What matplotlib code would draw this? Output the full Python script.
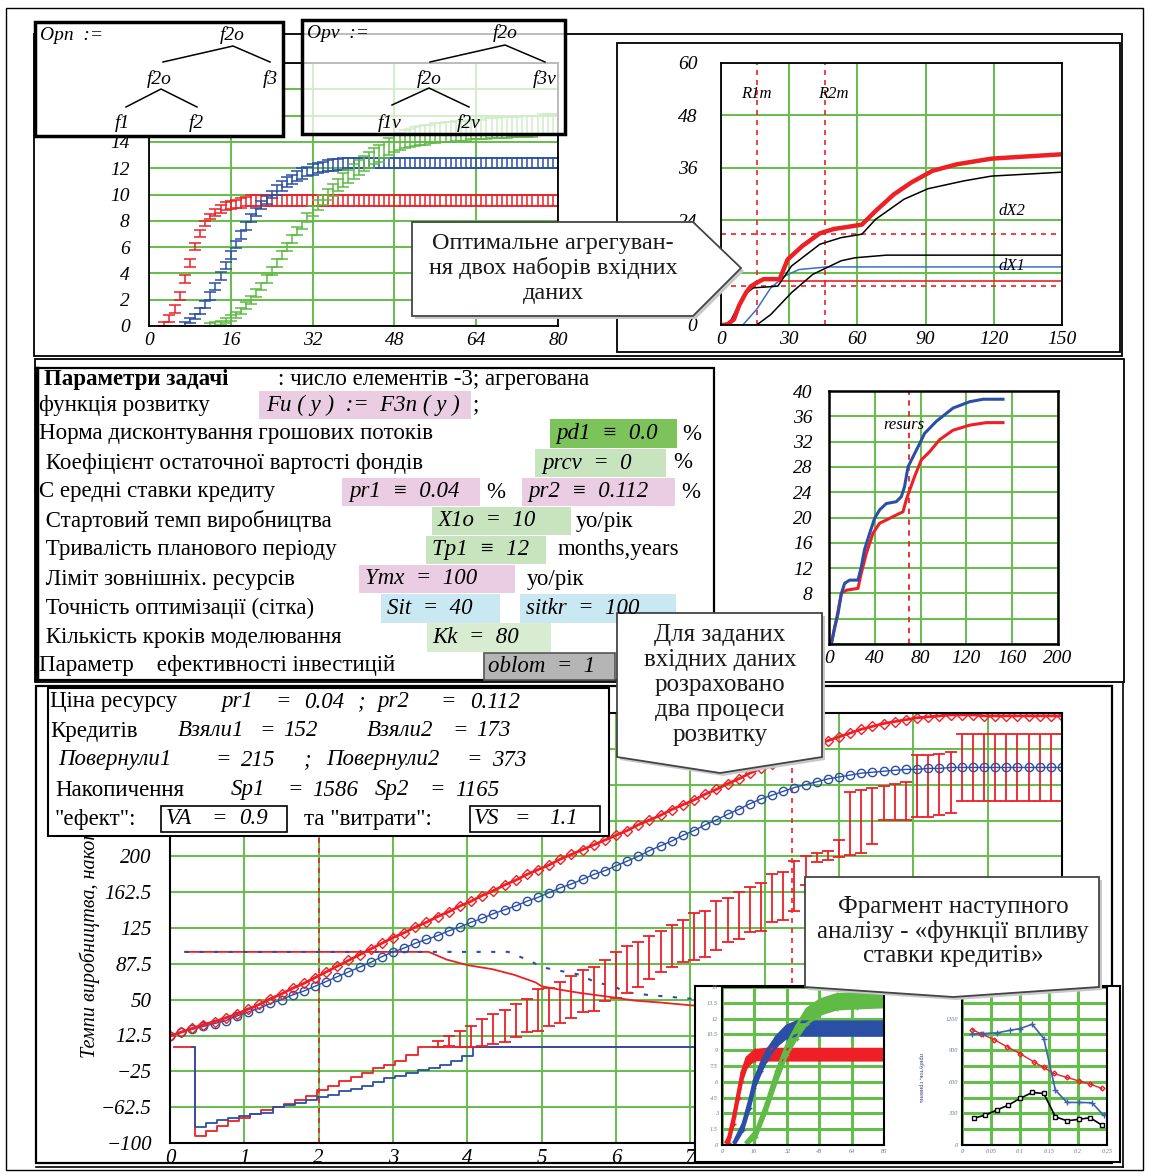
import matplotlib
matplotlib.use('Agg')
import matplotlib.pyplot as plt
from matplotlib.patches import Rectangle, Polygon
import numpy as np

W, H = 1150, 1174
SERIF = ['Liberation Serif', 'DejaVu Serif']
GRID = '#63bf47'
RED = '#ee2026'
BLUE = '#2b4fa6'
GREEN = '#5fbb45'

# ---------------- top-left chart: error-bar growth series ----------------
tl_red_x = list(range(3, 81))
tl_red_lo = [0.0, 0.3, 1.0, 2.0, 3.3, 4.5, 5.8, 6.8, 7.6, 8.1, 8.4, 8.6, 8.8, 8.9, 9.0, 9.0, 9.1] + [9.1] * 61
tl_red_hi = [0.3, 0.8, 1.6, 2.6, 3.9, 5.1, 6.3, 7.3, 8.0, 8.5, 8.9, 9.2, 9.4, 9.5, 9.6, 9.7, 9.8] + [10.0] * 61

tl_blue_x = list(range(7, 81))
tl_blue_lo = [0.0, 0.2, 0.5, 0.9, 1.4, 2.0, 2.7, 3.5, 4.3, 5.1, 5.9, 6.6, 7.3, 7.9, 8.4, 8.9,
              9.3, 9.7, 10.0, 10.3, 10.6, 10.8, 11.0, 11.2, 11.4, 11.5, 11.6, 11.7, 11.8, 11.8,
              11.9, 11.9] + [12.0] * 42
tl_blue_hi = [0.3, 0.6, 0.9, 1.4, 1.9, 2.6, 3.3, 4.1, 4.9, 5.7, 6.5, 7.2, 7.9, 8.5, 9.0, 9.5,
              9.9, 10.3, 10.7, 11.0, 11.3, 11.5, 11.8, 12.0, 12.1, 12.3, 12.4, 12.5, 12.6, 12.7,
              12.7, 12.8] + [12.8] * 42

tl_green_x = list(range(12, 81))
tl_green_lo = [0.0, 0.0, 0.1, 0.2, 0.4, 0.6, 0.9, 1.3, 1.7, 2.2, 2.7, 3.3, 3.9, 4.5, 5.1, 5.7,
               6.3, 6.9, 7.4, 7.9, 8.4, 8.8, 9.2, 9.6, 9.9, 10.3, 10.6, 10.9, 11.2, 11.5, 11.8,
               12.0, 12.3, 12.5, 12.8, 13.0, 13.2, 13.4, 13.5, 13.6, 13.7, 13.8, 13.8, 13.9, 13.9,
               14.0, 14.0, 14.0, 14.1, 14.1, 14.1, 14.2, 14.2, 14.2, 14.2, 14.3, 14.3, 14.3, 14.3,
               14.4, 14.4, 14.4, 14.4, 14.4, 14.5, 14.5, 14.5, 14.5, 14.5]
tl_green_hi = [0.2, 0.3, 0.4, 0.6, 0.8, 1.1, 1.4, 1.8, 2.3, 2.8, 3.3, 3.9, 4.5, 5.1, 5.7, 6.3,
               6.9, 7.5, 8.0, 8.6, 9.1, 9.6, 10.0, 10.4, 10.8, 11.2, 11.6, 11.9, 12.3, 12.6, 12.9,
               13.2, 13.5, 13.8, 14.0, 14.3, 14.5, 14.7, 14.9, 15.0, 15.1, 15.2, 15.3, 15.3, 15.4,
               15.4, 15.5, 15.5, 15.6, 15.6, 15.6, 15.7, 15.7, 15.7, 15.8, 15.8, 15.8, 15.9, 15.9,
               15.9, 15.9, 16.0, 16.0, 16.0, 16.0, 16.1, 16.1, 16.1, 16.1]
tl_ylabels = ['0', '2', '4', '6', '8', '10', '12', '14', '', '', '']

# ---------------- top-right chart ----------------
tr_red_x = [0, 1, 3, 5.7, 8, 11, 13, 15.7, 18.8, 25.8, 29.3, 35.8, 43.5, 49.7, 55, 62, 68, 76, 83.6,
            93, 103.7, 119, 137.6, 150]
tr_red_y = [0, 0, 0.2, 1.3, 4.5, 7.4, 8.8, 9.7, 10.5, 10.5, 15, 18.1, 21, 22, 22.4, 23, 26.1, 29.9,
            32.6, 35.3, 36.8, 38.1, 38.7, 39.1]
tr_dx2_x = [0, 3.4, 9.6, 14.2, 25, 31, 43.5, 52.8, 62, 68, 80.5, 91, 106.8, 119, 150]
tr_dx2_y = [0, 0, 6.6, 8.5, 8.9, 13.5, 18.5, 20, 20.8, 24.2, 28.8, 31.2, 33, 34.1, 35]
tr_dx1_x = [0, 15.7, 21.9, 31, 40.4, 52.8, 59, 72.8, 150]
tr_dx1_y = [0, 0, 2.4, 7.4, 11.6, 14.7, 15.4, 16, 16]
tr_blue_x = [9.6, 15.7, 21.9, 28, 34.3, 46.6, 150]
tr_blue_y = [0, 3.6, 8.5, 11.2, 12.7, 13.3, 13.3]
tr_red_flat = [25.8, 150]
tr_red_flat_y = 10.1
tr_hlines = [20.8, 9.0]
tr_vlines = [15.7, 45.8]

# ---------------- middle-right chart ----------------
mr_blue_x = [2, 5, 7.9, 10.8, 13.7, 18, 25.3, 28.2, 31, 35.5, 39.9, 44.2, 50, 58.8, 63.2, 66, 69,
             73.4, 79.2, 83.5, 93.7, 108.3, 122.8, 134.5, 152]
mr_blue_y = [0, 2.7, 4.8, 8, 9.6, 10.1, 10.1, 12.2, 14.9, 17.5, 19.9, 21.2, 22.2, 22.5, 23.3, 24.9,
             28, 29.6, 31.7, 33.3, 35.2, 37.3, 38.3, 38.7, 38.7]
mr_red_x = [2, 6.4, 10.8, 15.1, 25.3, 28.2, 32.6, 38.4, 44.2, 50, 58.8, 64.6, 67.5, 70.4, 74.8,
            80.6, 87.9, 96.6, 108.3, 122.8, 137.4, 152]
mr_red_y = [0, 3.8, 8, 8.5, 8.8, 11.2, 14.3, 17.5, 19.1, 19.6, 20.4, 20.9, 22.8, 24.3, 26.5, 29.1,
            30.4, 32.3, 33.8, 34.6, 35, 35]
mr_resurs = 69.6
mr_ylabels = ['', '', '8', '12', '16', '20', '24', '28', '32', '36', '40']

# ---------------- bottom chart (Kk = 80 steps over 12 units) ----------------
bt_step = 0.15
bt_red = [12, 16, 20, 24, 27, 31, 35, 40, 45, 51, 56, 62, 67, 73, 79, 85, 91, 97, 103, 109, 115,
          120, 126, 131, 137, 142, 148, 153, 159, 164, 170, 175, 181, 186, 191, 197, 202, 207, 212,
          217, 222, 227, 233, 238, 243, 249, 254, 259, 265, 270, 276, 281, 287, 292, 297, 302, 307,
          312, 317, 321, 325, 329, 333, 336, 339, 341, 343, 345, 346, 347, 348, 348, 348, 347, 347,
          347, 347, 347, 347, 347, 347]
bt_blue = [12, 16, 19, 22, 25, 28, 33, 37, 41, 46, 50, 55, 59, 64, 69, 74, 79, 84, 89, 95, 100,
           104, 109, 113, 117, 122, 126, 131, 135, 140, 144, 148, 153, 157, 162, 167, 171, 176, 181,
           185, 190, 195, 200, 206, 211, 216, 222, 227, 233, 238, 244, 249, 255, 260, 264, 268, 272,
           275, 278, 281, 283, 285, 287, 288, 289, 290, 291, 291, 292, 292, 293, 293, 293, 293, 293,
           293, 293, 293, 293, 293, 293]
bt_red_loan_x = [0.05, 0.33, 0.48, 0.63, 0.78, 0.93, 1.08, 1.23, 1.38, 1.53, 1.68, 1.83, 1.98, 2.13,
                 2.28, 2.43, 2.58, 2.73, 2.88, 3.03, 3.18, 3.33, 12.0]
bt_red_loan_y = [0, -92.6, -87.4, -82.2, -77.0, -74.3, -70.1, -65.9, -62.5, -59.7, -55.5, -51.0,
                 -44.1, -40.6, -35.4, -31.2, -26.7, -21.5, -18.0, -13.9, -8.3, 0, 0]
bt_blue_loan_x = [0.30, 0.33, 0.48, 0.63, 0.78, 0.93, 1.08, 1.23, 1.38, 1.53, 1.68, 1.83, 1.98, 2.13,
                  2.28, 2.43, 2.58, 2.73, 2.88, 3.03, 3.18, 3.33, 3.48, 3.63, 3.78, 3.93, 4.08, 12.0]
bt_blue_loan_y = [0, -83.3, -78.8, -76.3, -73.6, -71.8, -70.1, -68.4, -62.5, -60.4, -58.0, -55.5,
                  -52.0, -49.3, -45.8, -43.0, -40.6, -36.0, -31.9, -30.2, -26.7, -23.2, -21.5, -18.0,
                  -13.9, -9.4, 0, 0]
bt_limit_red_x = [0.2, 3.48, 3.72, 4.01, 4.33, 4.63, 4.92, 5.0, 5.28, 5.52, 6.0, 6.25, 6.6, 7.02, 7.6]
bt_limit_red_y = [100, 100, 92, 86, 82, 76, 68, 64, 60, 57, 52, 49, 47, 44, 42]
bt_limit_blue_x = [0.2, 3.48, 4.55, 4.86, 5.0, 5.52, 5.7, 6.0, 6.12, 6.42, 6.72, 7.0, 7.5]
bt_limit_blue_y = [100, 100, 100, 90, 84, 76, 69, 63, 58, 55, 53, 51, 49]
bt_bar_x = [3.6, 3.75, 3.9, 4.05, 4.2, 4.35, 4.5, 4.65, 4.8, 4.95, 5.1, 5.25, 5.4, 5.55, 5.7, 5.85,
            6.0, 6.15, 6.3, 6.45, 6.6, 6.75, 6.9, 7.05, 7.2, 7.35, 7.5, 7.65, 7.8, 7.95, 8.1, 8.25,
            8.4, 8.55, 8.7, 8.85, 9.0, 9.15, 9.3, 9.45, 9.6, 9.75, 9.9, 10.05, 10.2, 10.35, 10.5,
            10.65, 10.8, 10.95, 11.1, 11.25, 11.4, 11.55, 11.7, 11.85, 12.0]
bt_bar_hi = [7, 12.5, 17.7, 22, 30, 35, 39, 45, 51, 61, 62, 68, 75, 81, 84, 91, 99.5, 106.5, 110,
             117, 122, 128.6, 133, 141, 143, 153, 156, 163, 168, 172, 181, 184, 195, 200, 203.5, 206,
             217, 267, 269, 272, 274, 276, 278, 305.6, 305.6, 307, 309, 327.6, 327.6, 327.6, 327.6,
             327.6, 327.6, 327.6, 327.6, 327.6, 327.6]
bt_bar_lo = [0, 1, 0.5, 0.5, 1.5, 3.8, 5.5, 11, 16, 17, 22.6, 26, 31, 36.6, 38, 49, 52, 57.5, 63,
             71.5, 78.5, 84.4, 89, 91, 94.5, 101.5, 110, 113.7, 120.6, 122, 131, 133, 143, 170, 194,
             196, 199, 201, 203.5, 212.6, 238.5, 238.5, 238.5, 241, 241, 243, 245, 257.8, 257.8,
             257.8, 257.8, 257.8, 257.8, 257.8, 257.8, 257.8, 257.8]
bt_dashed = [2.0, 8.37]
bt_xlabels = ['0', '1', '2', '3', '4', '5', '6', '7', '', '', '', '', '']
bt_ylabels = ['\u2212100', '\u221262.5', '\u221225', '12.5', '50', '87.5', '125', '162.5', '200',
              '', '', '', '']

# ---------------- inset mini charts ----------------
m1_red_x = [2, 3.3, 5.7, 8.2, 9.8, 12.3, 16.4, 22, 80]
m1_red_lo = [0, 0.2, 2.0, 4.5, 6.1, 7.5, 8.1, 8.05, 8.05]
m1_red_hi = [0.3, 0.8, 2.8, 5.3, 6.9, 8.3, 9.0, 9.1, 9.1]
m1_blue_x = [6, 10.3, 13.6, 16, 19.4, 22.7, 26.9, 31.9, 36.8, 80]
m1_blue_lo = [0, 1.4, 3.5, 5.4, 7.0, 8.3, 9.4, 10.2, 10.4, 10.4]
m1_blue_hi = [0.3, 2.0, 4.3, 6.2, 7.8, 9.1, 10.3, 11.3, 11.7, 11.7]
m1_green_x = [12, 16.9, 21.9, 26.9, 31.9, 36.8, 41.8, 48.5, 56.7, 66.7, 80]
m1_green_lo = [0, 0.8, 3.2, 6.0, 8.5, 10.1, 11.5, 12.4, 12.9, 13.0, 13.1]
m1_green_hi = [0.3, 1.4, 4.0, 7.0, 9.5, 11.3, 12.9, 13.8, 14.3, 14.4, 14.5]

m2_red_x = [0.017, 0.032, 0.055, 0.078, 0.1, 0.124, 0.141, 0.158, 0.181, 0.201, 0.221, 0.241]
m2_red = [1096, 1058, 1001, 932, 868, 789, 736, 679, 641, 609, 578, 537]
m2_blue_x = [0.017, 0.037, 0.06, 0.083, 0.1, 0.121, 0.141, 0.161, 0.181, 0.201, 0.224, 0.244]
m2_blue = [1052, 1058, 1064, 1089, 1105, 1146, 1011, 521, 404, 404, 401, 284]
m2_black_x = [0.02, 0.04, 0.06, 0.08, 0.1, 0.121, 0.141, 0.161, 0.181, 0.201, 0.221, 0.241]
m2_black = [253, 284, 332, 379, 442, 499, 489, 268, 230, 243, 259, 189]


fig = plt.figure(figsize=(W / 100, H / 100), dpi=100)


def px_axes(x0, y0, x1, y1, z):
    return fig.add_axes([x0 / W, 1 - y1 / H, (x1 - x0) / W, (y1 - y0) / H], zorder=z)


def layer(z):
    ax = fig.add_axes([0, 0, 1, 1], zorder=z)
    ax.set_xlim(0, W)
    ax.set_ylim(H, 0)
    ax.axis('off')
    return ax


def chart(ax, xlim, ylim, xt, yt, xlab, ylab, fs, xpad, ypad, glw=1.4, tcolor='black', slw=1.3):
    ax.set_xlim(*xlim)
    ax.set_ylim(*ylim)
    ax.set_xticks(xt)
    ax.set_yticks(yt)
    ax.set_xticklabels(xlab)
    ax.set_yticklabels(ylab)
    for lab in ax.get_xticklabels() + ax.get_yticklabels():
        lab.set_fontfamily(SERIF)
        lab.set_fontstyle('italic')
        lab.set_fontsize(fs)
        lab.set_color(tcolor)
    ax.tick_params(axis='x', length=0, pad=xpad)
    ax.tick_params(axis='y', length=0, pad=ypad)
    ax.grid(True, color=GRID, lw=glw)
    ax.set_axisbelow(True)
    for s in ax.spines.values():
        s.set_color('black')
        s.set_linewidth(slw)


def txt(ax, x, y, s, size=16.5, style='normal', weight='normal', ha='left', **kw):
    return ax.text(x, y, s, fontsize=size, fontstyle=style, fontweight=weight, family=SERIF,
                   ha=ha, va='center', **kw)


bg = layer(0)
ov = layer(10)

# frames
for (x0, y0, x1, y1, lw) in [(6, 8, 1143, 1170, 1.0), (34, 34, 1122, 356, 1.3), (617, 43, 1120, 352, 1.3),
                             (35, 359, 1124, 682, 1.3), (36, 368, 714, 680, 1.6), (36, 686, 1112, 1163, 1.6)]:
    bg.add_patch(Rectangle((x0, y0), x1 - x0, y1 - y0, fill=False, lw=lw, ec='black'))
bg.plot([1123, 1123], [682, 1167], color='black', lw=1.2)
bg.plot([36, 1123], [1167, 1167], color='black', lw=1.2)
bg.plot([37, 37], [368, 680], color='black', lw=2.5)

# ---- top-left chart ----
ax = px_axes(149, 63, 558, 326, 1)
chart(ax, (0, 80), (0, 20), range(0, 81, 16), range(0, 21, 2),
      [str(v) for v in range(0, 81, 16)], tl_ylabels, 14, 4, 14)
for xs, lo, hi, c in [(tl_red_x, tl_red_lo, tl_red_hi, RED), (tl_blue_x, tl_blue_lo, tl_blue_hi, BLUE),
                      (tl_green_x, tl_green_lo, tl_green_hi, GREEN)]:
    lo = np.array(lo)
    hi = np.array(hi)
    ax.errorbar(xs, lo, yerr=[np.zeros(len(lo)), hi - lo], fmt='none', ecolor=c,
                elinewidth=1.1, capsize=4, capthick=1.1)

# ---- top-right chart ----
ax = px_axes(721, 63, 1062, 325, 1)
chart(ax, (0, 150), (0, 60), range(0, 151, 30), range(0, 61, 12),
      [str(v) for v in range(0, 151, 30)], [str(v) for v in range(0, 61, 12)], 14, 4, 17)
for v in tr_hlines:
    ax.axhline(v, color=RED, lw=1.2, ls=(0, (3, 3)))
for v in tr_vlines:
    ax.axvline(v, color=RED, lw=1.2, ls=(0, (3, 3)))
ax.plot(tr_red_flat, [tr_red_flat_y] * 2, color=RED, lw=1.2)
ax.plot(tr_blue_x, tr_blue_y, color='#3a6fc4', lw=1.1)
ax.plot(tr_dx1_x, tr_dx1_y, color='black', lw=1.1)
ax.plot(tr_dx2_x, tr_dx2_y, color='black', lw=1.1)
ax.plot(tr_red_x, tr_red_y, color=RED, lw=3.2)
for s, x, y in [('R1m', 15.7, 53), ('R2m', 49.5, 53), ('dX2', 128, 26), ('dX1', 128, 13.4)]:
    ax.text(x, y, s, fontsize=12, fontstyle='italic', family=SERIF, ha='center', va='center')

# ---- middle-right chart ----
ax = px_axes(829, 391, 1058, 644, 1)
chart(ax, (0, 200), (0, 40), range(0, 201, 40), range(0, 41, 4),
      [str(v) for v in range(0, 201, 40)], mr_ylabels, 14, 4, 12, slw=1.8)
ax.axvline(mr_resurs, color=RED, lw=1.3, ls=(0, (3, 3)))
ax.plot(mr_red_x, mr_red_y, color=RED, lw=2.2)
ax.plot(mr_blue_x, mr_blue_y, color=BLUE, lw=2.2)
ax.text(65, 34.6, 'resurs', fontsize=12, fontstyle='italic', family=SERIF, ha='center', va='center')

# ---- bottom chart ----
ax = px_axes(170, 713, 1062, 1143, 1)
yt = np.arange(-100, 351, 37.5)
chart(ax, (0, 12), (-100, 350), range(0, 13), yt, bt_xlabels, bt_ylabels, 15, 4, 13, slw=1.5)
xs = np.arange(len(bt_red)) * bt_step
for v in bt_dashed:
    ax.axvline(v, color=RED, lw=1.2, ls=(0, (3, 3)))
ax.plot(bt_red_loan_x, bt_red_loan_y, color=RED, lw=1.3, drawstyle='steps-post')
ax.plot(bt_blue_loan_x, bt_blue_loan_y, color=BLUE, lw=1.3, drawstyle='steps-post')
ax.plot(bt_limit_red_x, bt_limit_red_y, color=RED, lw=1.3)
ax.plot(bt_limit_blue_x, bt_limit_blue_y, color=BLUE, lw=1.5, ls=(0, (2, 5)))
lo = np.array(bt_bar_lo)
hi = np.array(bt_bar_hi)
ax.errorbar(bt_bar_x, lo, yerr=[np.zeros(len(lo)), hi - lo], fmt='none', ecolor=RED,
            elinewidth=1.3, capsize=4, capthick=1.3)
ax.plot(xs, bt_blue, color=BLUE, lw=1.0, marker='o', ms=6, mfc='none', mec=BLUE, mew=1.0)
ax.plot(xs, bt_red, color=RED, lw=2.0, marker='D', ms=5.5, mfc='none', mec=RED, mew=1.0)
# axis title is cut off by the results box in the original, only this part is visible
bg.text(90, 1058, 'Темпи виробництва, накоп', rotation=90, fontsize=14.5,
        fontstyle='italic', family=SERIF, ha='center', va='bottom')

# ---- inset with two mini charts ----
ib = px_axes(695, 986, 1120, 1162, 2)
ib.set_xticks([])
ib.set_yticks([])
for s in ib.spines.values():
    s.set_linewidth(1.5)

m1 = px_axes(722, 987, 884, 1145, 3)
chart(m1, (0, 80), (0, 15), range(0, 81, 16), np.arange(0, 15.1, 1.5),
      [str(v) for v in range(0, 81, 16)],
      ['0', '1.5', '3', '4.5', '6', '7.5', '9', '10.5', '12', '13.5', '15'], 4.5, 3, 3, glw=2.2,
      tcolor='#6a7aa8', slw=1.5)
for xs_, lo_, hi_, c in [(m1_red_x, m1_red_lo, m1_red_hi, RED), (m1_blue_x, m1_blue_lo, m1_blue_hi, BLUE),
                         (m1_green_x, m1_green_lo, m1_green_hi, GREEN)]:
    m1.fill_between(xs_, lo_, hi_, color=c, lw=0)
    m1.plot(xs_, lo_, color=c, lw=2, marker='+', ms=3)
    m1.plot(xs_, hi_, color=c, lw=2, marker='+', ms=3)

m2 = px_axes(962, 987, 1107, 1145, 3)
chart(m2, (0, 0.25), (0, 1500), [0, 0.05, 0.1, 0.15, 0.2, 0.25], range(0, 1501, 150),
      ['0', '0.05', '0.1', '0.15', '0.2', '0.25'],
      ['0', '', '300', '', '600', '', '900', '', '1200', '', ''], 4.5, 3, 3, glw=2.2,
      tcolor='#6a7aa8', slw=1.5)
m2.plot(m2_red_x, m2_red, color=RED, lw=1, marker='D', ms=2.5, mfc='none')
m2.plot(m2_blue_x, m2_blue, color='#4060b0', lw=1.2, marker='+', ms=4)
m2.plot(m2_black_x, m2_black, color='black', lw=1.2, marker='s', ms=3.5, mfc='white')
ib.text(0.53, 0.48, 'прибуток, гривень', rotation=-90, fontsize=4.5, color='#334488',
        transform=ib.transAxes, ha='center', va='center', family=SERIF)

# ---- Opn / Opv boxes ----
ov.add_patch(Rectangle((35, 22), 248, 114, fc='white', ec='black', lw=2.5))
ov.add_patch(Rectangle((302, 20), 263, 114, fc=(1, 1, 1, 0.72), ec='black', lw=2.5))
tree_items = [('Opn  :=', 40, 35, 'left'), ('f2o', 232, 35, 'center'), ('f2o', 159, 79, 'center'),
              ('f3', 270, 79, 'center'), ('f1', 122, 123, 'center'), ('f2', 196, 123, 'center'),
              ('Opv  :=', 307, 33, 'left'), ('f2o', 505, 33, 'center'), ('f2o', 429, 79, 'center'),
              ('f3v', 545, 79, 'center'), ('f1v', 390, 123, 'center'), ('f2v', 469, 123, 'center')]
for s, x, y, ha in tree_items:
    txt(ov, x, y, s, size=14, style='italic', ha=ha)
for xs_, ys_ in [([163, 233, 270], [62, 46, 62]), ([126, 161, 197], [107, 89, 107]),
                 ([430, 505, 545], [62, 45, 62]), ([392, 429, 469], [105, 88, 107])]:
    ov.plot(xs_, ys_, color='black', lw=1.1)

# ---- parameters block ----
txt(ov, 44, 380, 'Параметри задачі', weight='bold')
txt(ov, 278, 380, ': число елементів -3; агрегована')
param_rows = [
    ('функція розвитку', 39, 405), ('Норма дисконтування грошових потоків', 39, 434),
    (' Коефіцієнт остаточної вартості фондів', 40, 463), ('С ередні ставки кредиту', 39, 492),
    (' Стартовий темп виробництва', 40, 521), (' Тривалість планового періоду', 40, 550),
    (' Ліміт зовнішніх. ресурсів', 40, 579), (' Точність оптимізації (сітка)', 40, 608),
    (' Кількість кроків моделювання', 40, 637), ('Параметр    ефективності інвестицій', 39, 665)]
for s, x, y in param_rows:
    txt(ov, x, y, s)
PINK, DGREEN, LGREEN, LGREEN2, LBLUE, GRAY = '#eacde2', '#7cc35b', '#c7e4bf', '#d7ecd1', '#c9e8f2', '#b5b5b5'
param_boxes = [
    (259, 471, 391, 419, PINK, 'Fu ( y )  :=  F3n ( y )', 266),
    (550, 677, 419, 448, DGREEN, 'pd1  ≡  0.0', 556),
    (535, 666, 449, 477, LGREEN, 'prcv  =  0', 542),
    (342, 480, 478, 506, PINK, 'pr1  ≡  0.04', 349),
    (522, 675, 478, 506, PINK, 'pr2  ≡  0.112', 528),
    (432, 571, 507, 535, LGREEN, 'X1o  =  10', 438),
    (426, 546, 536, 564, LGREEN, 'Tp1  ≡  12', 432),
    (359, 515, 565, 593, PINK, 'Ymx  =  100', 365),
    (381, 500, 594, 623, LBLUE, 'Sit  =  40', 387),
    (520, 676, 594, 623, LBLUE, 'sitkr  =  100', 526),
    (427, 551, 623, 652, LGREEN2, 'Kk  =  80', 432),
    (484, 615, 653, 680, GRAY, 'oblom  =  1', 488)]
for x0, x1, y0, y1, c, s, tx in param_boxes:
    ec = '#555555' if c == GRAY else 'none'
    ov.add_patch(Rectangle((x0, y0), x1 - x0, y1 - y0, fc=c, ec=ec, lw=1.2))
    txt(ov, tx, (y0 + y1) / 2, s, style='italic')
for s, x, y in [(';', 473, 405), ('%', 682, 434), ('%', 673, 463), ('%', 486, 492), ('%', 681, 492),
                ('уо/рік', 576, 521), ('months,years', 558, 550), ('уо/рік', 527, 579)]:
    txt(ov, x, y, s)

# ---- results text box ----
ov.add_patch(Rectangle((48, 688), 561, 148, fc='white', ec='black', lw=1.5))
ov.add_patch(Rectangle((161, 806), 126, 26, fc='none', ec='black', lw=1.2))
ov.add_patch(Rectangle((470, 806), 130, 26, fc='none', ec='black', lw=1.2))
res_plain = [('Ціна ресурсу', 50, 702), ('Кредитів', 50, 731), ('Накопичення', 55, 790),
             ('"ефект":', 55, 819), ('та "витрати":', 304, 819)]
for s, x, y in res_plain:
    txt(ov, x, y, s)
res_math = [('pr1', 221, 702), ('=', 275, 702), ('0.04', 304, 702), (';', 358, 702), ('pr2', 377, 702),
            ('=', 440, 702), ('0.112', 470, 702),
            ('Взяли1', 178, 731), ('=', 259, 731), ('152', 283, 731), ('Взяли2', 367, 731),
            ('=', 452, 731), ('173', 476, 731),
            ('Повернули1', 58, 760), ('=', 215, 760), ('215', 241, 760), (';', 304, 760),
            ('Повернули2', 326, 760), ('=', 466, 760), ('373', 492, 760),
            ('Sp1', 231, 790), ('=', 287, 790), ('1586', 312, 790), ('Sp2', 375, 790),
            ('=', 429, 790), ('1165', 455, 790),
            ('VA', 166, 819), ('=', 211, 819), ('0.9', 239, 819),
            ('VS', 474, 819), ('=', 514, 819), ('1.1', 549, 819)]
for s, x, y in res_math:
    txt(ov, x, y, s, style='italic')

# ---- callouts ----
callouts = [
    ([(412, 222), (693, 222), (741, 268), (693, 316), (412, 316)], 553,
     ['Оптимальне агрегуван-', 'ня двох наборів вхідних', 'даних'], 243, 25, 17.5),
    ([(617, 613), (822, 613), (822, 757), (720, 773), (617, 757)], 720,
     ['Для заданих', 'вхідних даних', 'розраховано', 'два процеси', 'розвитку'], 635, 25, 18),
    ([(805, 877), (1099, 877), (1099, 987), (953, 997), (805, 987)], 953,
     ['Фрагмент наступного', 'аналізу - «функції впливу', 'ставки кредитів»'], 907, 24.5, 18)]
for pts, cx, lines, y0, dy, fs in callouts:
    shadow = [(x + 3, y + 3) for x, y in pts]
    ov.add_patch(Polygon(shadow, closed=True, fc='#c8c8c8', ec='none'))
    ov.add_patch(Polygon(pts, closed=True, fc='white', ec='#444444', lw=1.3))
    for i, s in enumerate(lines):
        txt(ov, cx, y0 + i * dy, s, size=fs, ha='center', color='#1a1a1a')

fig.savefig('out.png', dpi=100)
